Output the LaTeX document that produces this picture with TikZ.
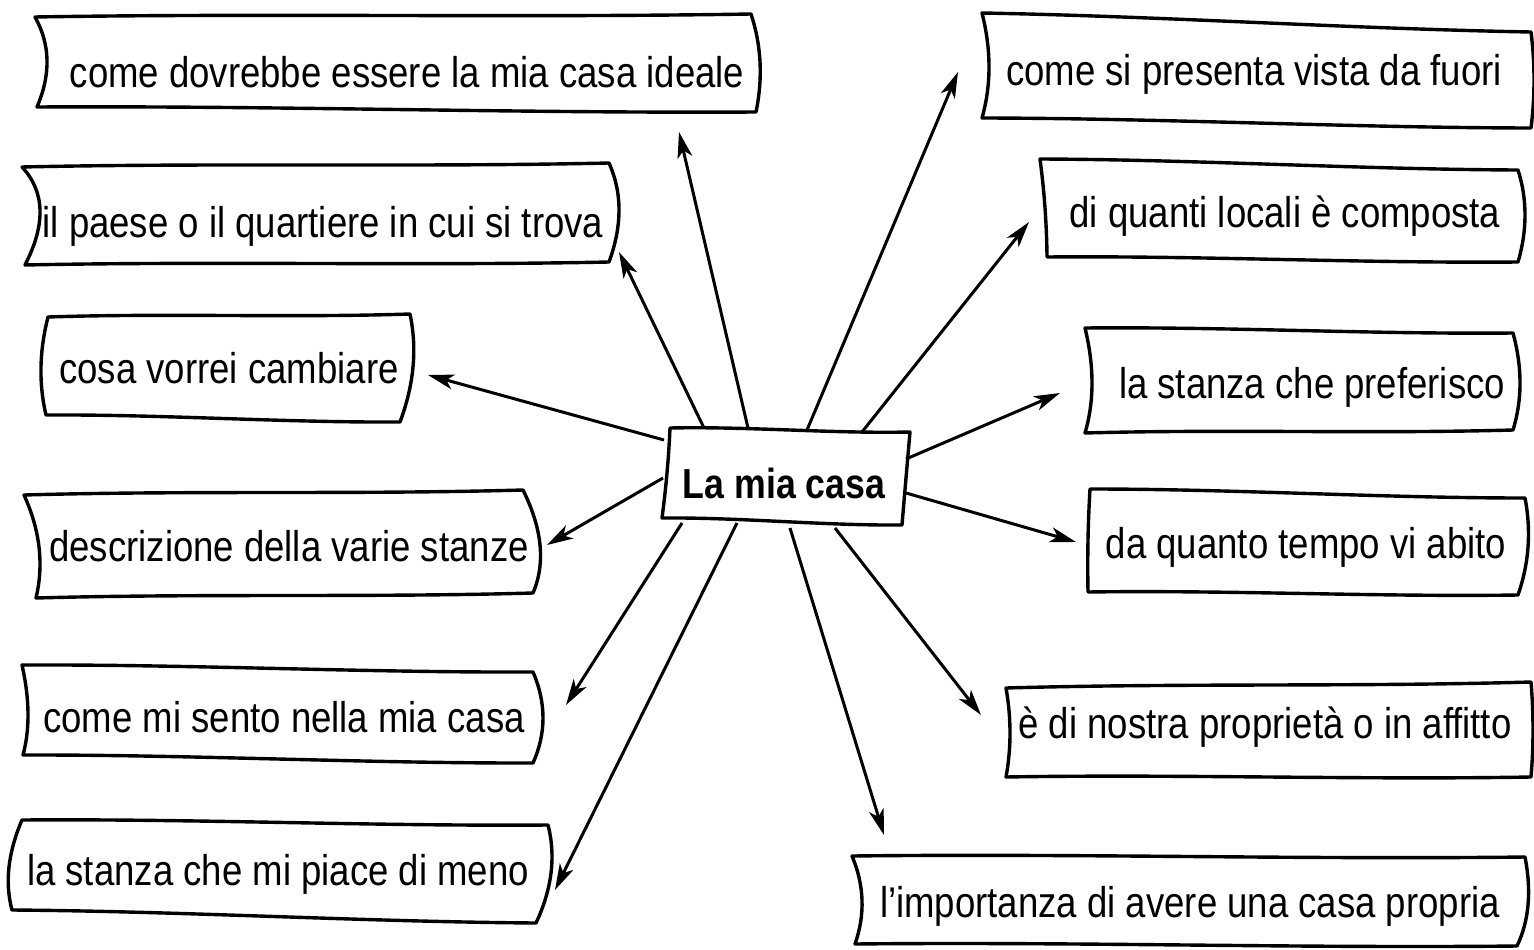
\documentclass[tikz,border=0pt]{standalone}
\usepackage{fontspec}
\setmainfont{Liberation Sans}[FakeStretch=0.85]
\usetikzlibrary{calc,arrows.meta}
\tikzset{
  boxline/.style={line width=3.4pt, line join=round, line cap=round, black},
  arr/.style={line width=3pt, -{Stealth[length=26pt,width=15pt,inset=7pt]}},
  lbl/.style={inner sep=0pt, anchor=base, font=\fontsize{43}{50}\selectfont},
  title/.style={inner sep=0pt, anchor=base, font=\fontsize{42}{50}\selectfont\bfseries},
}
% TL TR BR BL left-mid right-mid
\newcommand\wbox[6]{%
  \coordinate (wbR) at ($2*#6-0.5*#2-0.5*#3$);
  \coordinate (wbL) at ($2*#5-0.5*#4-0.5*#1$);
  \draw[boxline] #1
    .. controls ($#1!0.33!#2+(0,-3)$) and ($#1!0.67!#2+(0,3)$) .. #2
    .. controls ($#2!0.667!(wbR)$) and ($#3!0.667!(wbR)$) .. #3
    .. controls ($#3!0.33!#4+(0,3)$) and ($#3!0.67!#4+(0,-3)$) .. #4
    .. controls ($#4!0.667!(wbL)$) and ($#1!0.667!(wbL)$) .. cycle;
}
\begin{document}
\begin{tikzpicture}[x=1pt,y=-1pt]
\useasboundingbox (0,0) rectangle (1534,950);
\fill[white] (0,0) rectangle (1534,950);

% boxes
\wbox{(35,17)}{(751,14)}{(756,112)}{(37,107)}{(47,60)}{(760,62)}
\wbox{(22,167)}{(609,163)}{(609,262)}{(25,265)}{(40,210)}{(619,210)}
\wbox{(48,317)}{(410,314)}{(400,422)}{(46,415)}{(41,367)}{(413,367)}
\wbox{(24,495)}{(523,490)}{(533,593)}{(36,598)}{(39,547)}{(540,545)}
\wbox{(22,665)}{(533,672)}{(533,763)}{(23,755)}{(28,713)}{(543,718)}
\wbox{(22,820)}{(548,825)}{(536,923)}{(12,910)}{(9,867)}{(551,873)}

\wbox{(982,13)}{(1531,32)}{(1531,128)}{(982,118)}{(989,67)}{(1534,80)}
\wbox{(1040,159)}{(1518,170)}{(1518,262)}{(1047,257)}{(1045,208)}{(1525,215)}
\wbox{(1085,328)}{(1513,333)}{(1513,430)}{(1085,433)}{(1092,383)}{(1520,383)}
\wbox{(1090,489)}{(1525,498)}{(1518,595)}{(1088,592)}{(1088,540)}{(1528,547)}
\wbox{(1006,688)}{(1531,682)}{(1531,777)}{(1006,777)}{(1010,733)}{(1533,730)}
\wbox{(852,856)}{(1525,857)}{(1517,946)}{(855,944)}{(862,900)}{(1528,905)}

\wbox{(670,428)}{(910,432)}{(902,525)}{(662,518)}{(667,473)}{(906,478)}

% texts
\node[title] (c) at (784,498) {La mia casa};
\node[lbl] (t1) at (407,88) {come dovrebbe essere la mia casa ideale};
\node[lbl] (t2) at (323,237) {il paese o il quartiere in cui si trova};
\node[lbl] (t3) at (229,383) {cosa vorrei cambiare};
\node[lbl] (t4) at (289,561) {descrizione della varie stanze};
\node[lbl] (t5) at (284,732) {come mi sento nella mia casa};
\node[lbl] (t6) at (278,885) {la stanza che mi piace di meno};
\node[lbl] (t7) at (1254,85) {come si presenta vista da fuori};
\node[lbl] (t8) at (1285,227) {di quanti locali è composta};
\node[lbl] (t9) at (1312,398) {la stanza che preferisco};
\node[lbl] (t10) at (1306,558) {da quanto tempo vi abito};
\node[lbl] (t11) at (1265,738) {è di nostra proprietà o in affitto};
\node[lbl] (t12) at (1190,917) {l’importanza di avere una casa propria};

% connector ends
\coordinate (s1) at (748,428);  \coordinate (e1) at (679,132);
\coordinate (s2) at (704,428);  \coordinate (e2) at (619,252);
\coordinate (s3) at (664,440);  \coordinate (e3) at (428,375);
\coordinate (s4) at (663,478);  \coordinate (e4) at (547,545);
\coordinate (s5) at (682,523);  \coordinate (e5) at (566,705);
\coordinate (s6) at (737,523);  \coordinate (e6) at (555,890);
\coordinate (s7) at (807,430);  \coordinate (e7) at (958,72);
\coordinate (s8) at (862,432);  \coordinate (e8) at (1029,222);
\coordinate (s9) at (906,459);  \coordinate (e9) at (1060,393);
\coordinate (s10) at (906,493); \coordinate (e10) at (1076,542);
\coordinate (s11) at (835,528); \coordinate (e11) at (981,715);
\coordinate (s12) at (790,528); \coordinate (e12) at (884,835);

\foreach \i in {1,...,12} { \draw[arr] (s\i) -- (e\i); }
\end{tikzpicture}
\end{document}
